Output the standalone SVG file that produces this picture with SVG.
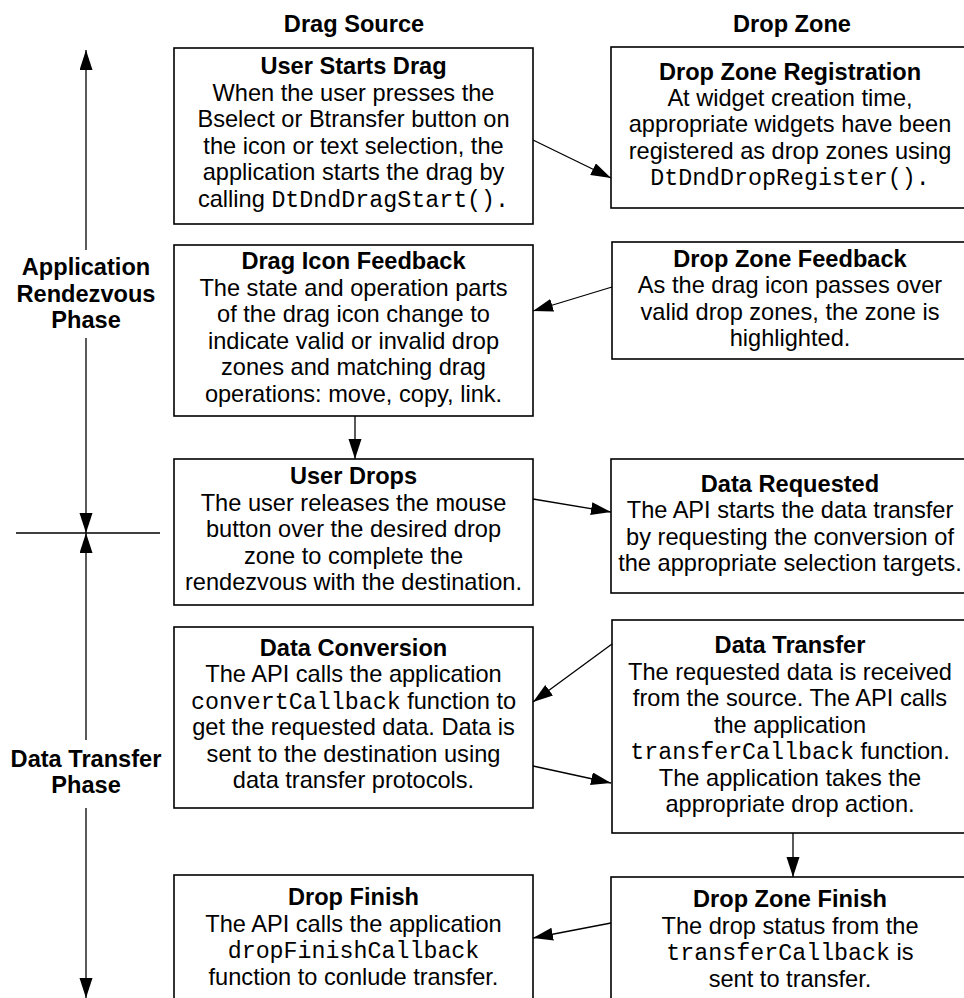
<svg xmlns="http://www.w3.org/2000/svg" width="964" height="998" viewBox="0 0 964 998">
<style>
.box{fill:#fff;stroke:#000;stroke-width:1.6}
.t{font-family:"Liberation Sans",Arial,Helvetica,sans-serif;font-size:23.6px;fill:#000;text-anchor:middle}
.b{font-weight:bold}
.m{font-family:"Liberation Mono","Courier New",monospace;font-size:23.3px}
.ln{stroke:#000;stroke-width:1.3;fill:none}
</style>
<defs>
<marker id="ah" markerUnits="userSpaceOnUse" markerWidth="21" markerHeight="14" refX="20" refY="6.5" orient="auto">
<path d="M0,0 L20,6.5 L0,13 z" fill="#000"/>
</marker>
</defs>
<rect width="964" height="998" fill="#fff"/>
<g id="headers">
<text class="t b" x="354" y="32">Drag Source</text>
<text class="t b" x="792" y="32">Drop Zone</text>
</g>
<g id="phases">
<text class="t b" x="86" y="275">Application</text>
<text class="t b" x="86" y="301.5">Rendezvous</text>
<text class="t b" x="86" y="328">Phase</text>
<text class="t b" x="86" y="767">Data Transfer</text>
<text class="t b" x="86" y="793">Phase</text>
<line class="ln" x1="86" y1="250" x2="86" y2="50" marker-end="url(#ah)"/>
<line class="ln" x1="86" y1="338" x2="86" y2="533" marker-end="url(#ah)"/>
<line class="ln" x1="86" y1="740" x2="86" y2="533" marker-end="url(#ah)"/>
<line class="ln" x1="86" y1="808" x2="86" y2="998" marker-end="url(#ah)"/>
<line class="ln" x1="16" y1="533" x2="160" y2="533"/>
</g>
<g id="n1">
<rect class="box" x="174" y="48" width="359" height="176"/>
<text class="t" x="353.5" y="74"><tspan class="b">User Starts Drag</tspan></text>
<text class="t" x="353.5" y="100.5">When the user presses the</text>
<text class="t" x="353.5" y="127">Bselect or Btransfer button on</text>
<text class="t" x="353.5" y="153.5">the icon or text selection, the</text>
<text class="t" x="353.5" y="180">application starts the drag by</text>
<text class="t" x="353.5" y="206.5">calling <tspan class="m">DtDndDragStart().</tspan></text>
</g>
<g id="n2">
<rect class="box" x="611" y="47" width="370" height="161"/>
<text class="t b" x="790" y="80">Drop Zone Registration</text>
<text class="t" x="790" y="106">At widget creation time,</text>
<text class="t" x="790" y="132">appropriate widgets have been</text>
<text class="t" x="790" y="158.5">registered as drop zones using</text>
<text class="t m" x="790" y="185">DtDndDropRegister().</text>
</g>
<g id="n3">
<rect class="box" x="174" y="245" width="359" height="171"/>
<text class="t b" x="353.5" y="269">Drag Icon Feedback</text>
<text class="t" x="353.5" y="295.5">The state and operation parts</text>
<text class="t" x="353.5" y="322">of the drag icon change to</text>
<text class="t" x="353.5" y="348.5">indicate valid or invalid drop</text>
<text class="t" x="353.5" y="375">zones and matching drag</text>
<text class="t" x="353.5" y="401.5">operations: move, copy, link.</text>
</g>
<g id="n4">
<rect class="box" x="612" y="242" width="370" height="117"/>
<text class="t b" x="790" y="266.5">Drop Zone Feedback</text>
<text class="t" x="790" y="293">As the drag icon passes over</text>
<text class="t" x="790" y="319.5">valid drop zones, the zone is</text>
<text class="t" x="790" y="346">highlighted.</text>
</g>
<g id="n5">
<rect class="box" x="174" y="459" width="359" height="146"/>
<text class="t b" x="353.5" y="484">User Drops</text>
<text class="t" x="353.5" y="510.5">The user releases the mouse</text>
<text class="t" x="353.5" y="537">button over the desired drop</text>
<text class="t" x="353.5" y="563.5">zone to complete the</text>
<text class="t" x="353.5" y="590">rendezvous with the destination.</text>
</g>
<g id="n6">
<rect class="box" x="611" y="459" width="370" height="134"/>
<text class="t b" x="790" y="491.5">Data Requested</text>
<text class="t" x="790" y="518">The API starts the data transfer</text>
<text class="t" x="790" y="544.5">by requesting the conversion of</text>
<text class="t" x="790" y="571">the appropriate selection targets.</text>
</g>
<g id="n7">
<rect class="box" x="174" y="627" width="359" height="181"/>
<text class="t b" x="353.5" y="655.5">Data Conversion</text>
<text class="t" x="353.5" y="682">The API calls the application</text>
<text class="t" x="353.5" y="708.5"><tspan class="m">convertCallback</tspan> function to</text>
<text class="t" x="353.5" y="735">get the requested data. Data is</text>
<text class="t" x="353.5" y="761.5">sent to the destination using</text>
<text class="t" x="353.5" y="788">data transfer protocols.</text>
</g>
<g id="n8">
<rect class="box" x="612" y="620" width="370" height="213"/>
<text class="t b" x="790" y="653">Data Transfer</text>
<text class="t" x="790" y="679.5">The requested data is received</text>
<text class="t" x="790" y="706">from the source. The API calls</text>
<text class="t" x="790" y="732.5">the application</text>
<text class="t" x="790" y="759"><tspan class="m">transferCallback</tspan> function.</text>
<text class="t" x="790" y="785.5">The application takes the</text>
<text class="t" x="790" y="812">appropriate drop action.</text>
</g>
<g id="n9">
<rect class="box" x="174" y="875" width="359" height="140"/>
<text class="t b" x="353.5" y="905">Drop Finish</text>
<text class="t" x="353.5" y="931.5">The API calls the application</text>
<text class="t m" x="353.5" y="958">dropFinishCallback</text>
<text class="t" x="353.5" y="984.5">function to conlude transfer.</text>
</g>
<g id="n10">
<rect class="box" x="611" y="877" width="370" height="140"/>
<text class="t b" x="790" y="907">Drop Zone Finish</text>
<text class="t" x="790" y="933.5">The drop status from the</text>
<text class="t" x="790" y="960"><tspan class="m">transferCallback</tspan> is</text>
<text class="t" x="790" y="986.5">sent to transfer.</text>
</g>
<g id="connectors">
<line class="ln" x1="533" y1="140" x2="611" y2="178" marker-end="url(#ah)"/>
<line class="ln" x1="612" y1="287" x2="533" y2="311" marker-end="url(#ah)"/>
<line class="ln" x1="355" y1="416" x2="355" y2="459" marker-end="url(#ah)"/>
<line class="ln" x1="533" y1="499" x2="611" y2="512" marker-end="url(#ah)"/>
<line class="ln" x1="612" y1="644" x2="533" y2="702" marker-end="url(#ah)"/>
<line class="ln" x1="533" y1="766" x2="611" y2="783" marker-end="url(#ah)"/>
<line class="ln" x1="793" y1="833" x2="793" y2="877" marker-end="url(#ah)"/>
<line class="ln" x1="611" y1="923" x2="533" y2="938" marker-end="url(#ah)"/>
</g>
</svg>
